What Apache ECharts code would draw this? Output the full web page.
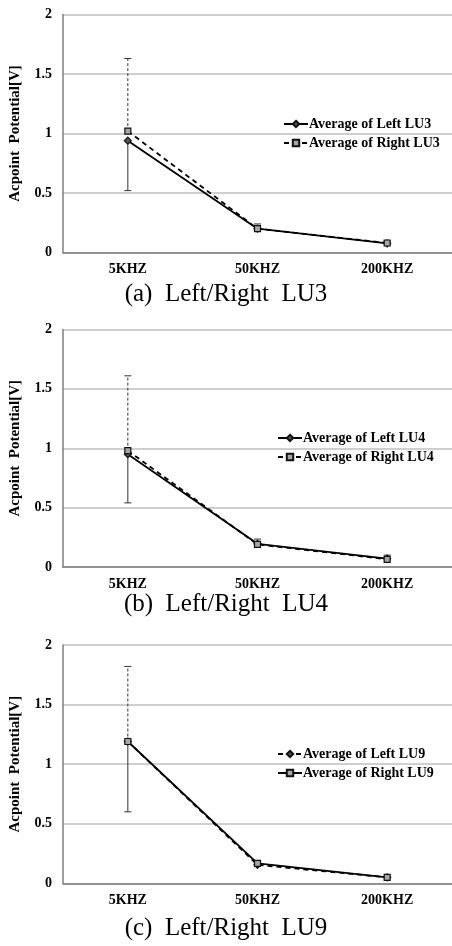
<!DOCTYPE html>
<html>
<head>
<meta charset="utf-8">
<script src="https://cdn.jsdelivr.net/npm/echarts@6/dist/echarts.min.js"></script>
<style>
html,body{margin:0;padding:0;background:#fff;}
#chart{width:452px;height:946px;}
</style>
</head>
<body>
<div id="chart"></div>
<script>
// ---- data ----
const categories = ['5KHZ', '50KHZ', '200KHZ'];
const yMin = 0, yMax = 2, yStep = 0.5;

// (a) LU3
const leftLU3 = [0.94, 0.20, 0.077];
const rightLU3 = [1.02, 0.20, 0.08];
const leftLU3Low = [0.52, null, null];
const rightLU3High = [1.63, 0.24, 0.09];

// (b) LU4
const leftLU4 = [0.95, 0.195, 0.07];
const rightLU4 = [0.98, 0.19, 0.065];
const leftLU4Low = [0.54, null, null];
const rightLU4High = [1.61, 0.235, 0.10];

// (c) LU9
const leftLU9 = [1.19, 0.155, 0.05];
const rightLU9 = [1.19, 0.168, 0.05];
const leftLU9High = [1.82, null, null];
const rightLU9Low = [0.60, null, null];

const captions = ['(a)  Left/Right  LU3', '(b)  Left/Right  LU4', '(c)  Left/Right  LU9'];

// ---- layout ----
const SERIF = '"Liberation Serif", "Times New Roman", serif';
const grids = [
  {left: 63, top: 14.5, height: 238, right: -2},
  {left: 63, top: 329.5, height: 237.5, right: -2},
  {left: 63, top: 645, height: 238.3, right: -2}
];
const captionTop = [282, 592, 916];
const legendTop = [117, 431, 747];

const chart = echarts.init(document.getElementById('chart'), null, {renderer: 'canvas'});

function xAxis(i) {
  return {
    type: 'category', gridIndex: i, data: categories, boundaryGap: true,
    axisLine: {lineStyle: {color: '#7f7f7f', width: 1.5}},
    axisTick: {show: false},
    axisLabel: {color: '#000', fontFamily: SERIF, fontWeight: 'bold', fontSize: 14, margin: 10},
    splitLine: {show: false}
  };
}
function yAxis(i) {
  return {
    type: 'value', gridIndex: i, min: yMin, max: yMax, interval: yStep,
    name: 'Acpoint  Potential[V]', nameLocation: 'middle', nameGap: 40, nameRotate: 90,
    nameTextStyle: {color: '#000', fontFamily: SERIF, fontWeight: 'bold', fontSize: 15},
    axisLine: {show: true, lineStyle: {color: '#7f7f7f', width: 1.5}},
    axisTick: {show: false},
    axisLabel: {color: '#000', fontFamily: SERIF, fontWeight: 'bold', fontSize: 14, margin: 11},
    splitLine: {show: true, lineStyle: {color: '#bfbfbf', width: 1.5}}
  };
}

function lineSeries(name, data, i, dashed, symbol) {
  return {
    type: 'line', name: name, data: data, xAxisIndex: i, yAxisIndex: i,
    symbol: symbol, symbolSize: symbol === 'diamond' ? 7 : 6,
    lineStyle: {color: '#000', width: 1.8, type: dashed ? [5, 4] : 'solid'},
    itemStyle: {color: symbol === 'diamond' ? '#555' : '#a6a6a6', borderColor: '#111', borderWidth: 1.2},
    z: 5, animation: false
  };
}

function errSeries(means, ends, i, dashed) {
  const d = [];
  means.forEach((m, k) => { if (ends[k] != null) d.push([k, m, ends[k]]); });
  return {
    type: 'custom', xAxisIndex: i, yAxisIndex: i, data: d, z: 3, silent: true, animation: false,
    renderItem: function (params, api) {
      const p0 = api.coord([api.value(0), api.value(1)]);
      const p1 = api.coord([api.value(0), api.value(2)]);
      const style = {stroke: '#333', lineWidth: 1, lineDash: dashed ? [3, 2] : null};
      return {
        type: 'group',
        children: [
          {type: 'line', shape: {x1: p0[0], y1: p0[1], x2: p1[0], y2: p1[1]}, style: style},
          {type: 'line', shape: {x1: p1[0] - 3.5, y1: p1[1], x2: p1[0] + 3.5, y2: p1[1]}, style: {stroke: '#333', lineWidth: 1}}
        ]
      };
    }
  };
}

const panels = [
  {L: leftLU3, R: rightLU3, names: ['Average of Left LU3', 'Average of Right LU3'], leftDashed: false,
   errs: [[leftLU3, leftLU3Low, false], [rightLU3, rightLU3High, true]]},
  {L: leftLU4, R: rightLU4, names: ['Average of Left LU4', 'Average of Right LU4'], leftDashed: false,
   errs: [[leftLU4, leftLU4Low, false], [rightLU4, rightLU4High, true]]},
  {L: leftLU9, R: rightLU9, names: ['Average of Left LU9', 'Average of Right LU9'], leftDashed: true,
   errs: [[leftLU9, leftLU9High, true], [rightLU9, rightLU9Low, false]]}
];

const series = [];
const legends = [];
panels.forEach((p, i) => {
  p.errs.forEach(e => series.push(errSeries(e[0], e[1], i, e[2])));
  series.push(lineSeries(p.names[0], p.L, i, p.leftDashed, 'diamond'));
  series.push(lineSeries(p.names[1], p.R, i, !p.leftDashed, 'rect'));
  legends.push({
    data: p.names, orient: 'vertical', left: i === 0 ? 283 : 277, top: legendTop[i],
    itemWidth: 24, itemHeight: 8, itemGap: 5, padding: 0, selectedMode: false,
    textStyle: {color: '#000', fontFamily: SERIF, fontWeight: 'bold', fontSize: 14, padding: [0, 0, 0, -4]}
  });
});

chart.setOption({
  backgroundColor: '#fff',
  animation: false,
  title: captions.map((c, i) => ({
    text: c, left: 'center', top: captionTop[i], padding: 0,
    textStyle: {color: '#000', fontFamily: SERIF, fontWeight: 'normal', fontSize: 25}
  })),
  legend: legends,
  grid: grids,
  xAxis: [0, 1, 2].map(xAxis),
  yAxis: [0, 1, 2].map(yAxis),
  series: series
});
</script>
</body>
</html>
